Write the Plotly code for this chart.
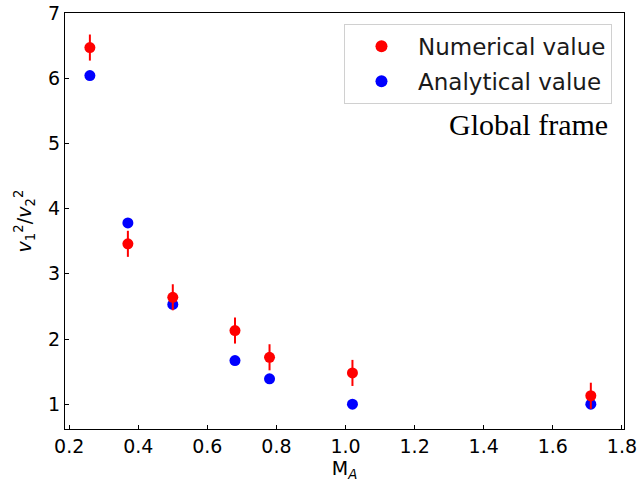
import plotly.graph_objects as go

# Data
ma_values = [0.26, 0.37, 0.50, 0.68, 0.78, 1.02, 1.71]
numerical = [6.47, 3.46, 2.64, 2.13, 1.72, 1.48, 1.13]
numerical_err = [0.2, 0.2, 0.2, 0.2, 0.2, 0.2, 0.2]
analytical = [6.04, 3.78, 2.53, 1.67, 1.39, 1.00, 1.00]

x_ticks = [0.2, 0.4, 0.6, 0.8, 1.0, 1.2, 1.4, 1.6, 1.8]
x_tick_labels = ["0.2", "0.4", "0.6", "0.8", "1.0", "1.2", "1.4", "1.6", "1.8"]
y_ticks = [1, 2, 3, 4, 5, 6, 7]
y_tick_labels = ["1", "2", "3", "4", "5", "6", "7"]

fig = go.Figure()

fig.add_trace(go.Scatter(
    x=ma_values, y=analytical, mode="markers", name="Analytical value",
    marker=dict(color="#0000ff", size=11),
    legendgroup="b", legendrank=2,
))
fig.add_trace(go.Scatter(
    x=ma_values, y=numerical, mode="markers", name="Numerical value",
    marker=dict(color="#ff0000", size=11),
    error_y=dict(type="data", array=numerical_err, color="#ff0000", thickness=2, width=0),
    legendgroup="a", legendrank=1,
))

axis_common = dict(
    showgrid=False, zeroline=False, showline=True, linecolor="black", linewidth=1,
    mirror=True, ticks="inside", ticklen=4, tickcolor="black", tickwidth=1,
    tickfont=dict(family="DejaVu Sans", size=19, color="black"),
    automargin=False, ticklabeloverflow="allow",
)

fig.update_xaxes(
    range=[0.188, 1.806], tickvals=x_ticks, ticktext=x_tick_labels,
    title=dict(text="M<sub><i>A</i></sub>", font=dict(family="DejaVu Sans", size=19, color="black"), standoff=4),
    **axis_common,
)
fig.update_yaxes(
    range=[0.62, 7.0], tickvals=y_ticks, ticktext=y_tick_labels,
    title=dict(text="<i>v</i><sub>1</sub><sup>2</sup>/<i>v</i><sub>2</sub><sup>2</sup>",
               font=dict(family="DejaVu Sans", size=19, color="black"), standoff=11),
    **axis_common,
)

fig.add_annotation(
    text="Global frame", xref="paper", yref="paper", x=0.975, y=0.731,
    xanchor="right", yanchor="middle", showarrow=False,
    font=dict(family="Liberation Serif", size=30, color="black"),
)

fig.update_layout(
    width=641, height=485,
    margin=dict(l=65, r=17, t=13, b=56),
    paper_bgcolor="white", plot_bgcolor="white",
    showlegend=True,
    legend=dict(
        x=0.9785, y=0.974, xanchor="right", yanchor="top",
        bordercolor="#d0d0d0", borderwidth=1, bgcolor="rgba(255,255,255,0.8)",
        font=dict(family="DejaVu Sans", size=23, color="#1a1a1a"),
        traceorder="grouped", tracegroupgap=2, itemsizing="constant", itemwidth=63,
    ),
)

# remove the default 8px page margin so the figure sits at the window's top-left corner
fig.write_html("out.html", config={"displayModeBar": False},
               post_script="document.body.style.margin='0px';")
